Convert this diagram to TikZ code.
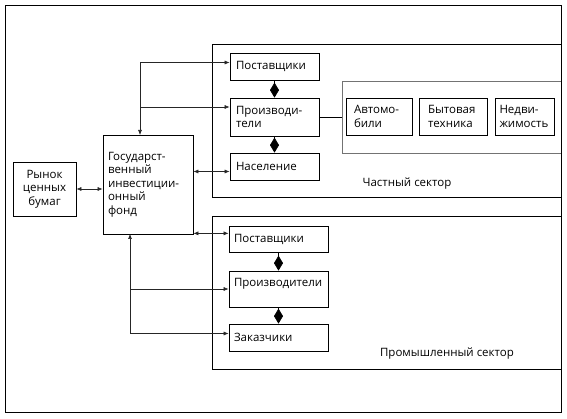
\documentclass[tikz,border=0pt]{standalone}
\usepackage{fontspec}
\setmainfont{Open Sans}
\usepackage{tikz}
\usetikzlibrary{arrows.meta}

\tikzset{
  box/.style={draw, line width=0.7pt, inner xsep=6pt, inner ysep=2pt, align=left,
    font=\fontsize{11.5}{13.5}\selectfont},
  arr/.style={-{Latex[length=5pt,width=4pt]}, line width=0.6pt, draw=black!85},
  dbl/.style={{Latex[length=5pt,width=4pt]}-{Latex[length=5pt,width=4pt]}, line width=0.6pt, draw=black!85},
  dmd/.style={-{Diamond[length=15pt,width=9pt]}, line width=0.6pt},
  lbl/.style={font=\fontsize{11.5}{13.5}\selectfont}
}

\begin{document}
\begin{tikzpicture}[x=1pt, y=-1pt]
    \useasboundingbox (0,0) rectangle (567,419);
    % Outer frame
    \draw[line width=0.8pt] (5,5) rectangle (561,412);
    % Private sector
    \draw[line width=0.7pt] (212,44) rectangle (561,197);
    \node[lbl] (plabel) at (407,184) {Частный сектор};
    % Industrial sector
    \draw[line width=0.7pt] (212,216) rectangle (561,369);
    \node[lbl] (ilabel) at (447,354) {Промышленный сектор};
    % Products frame
    \coordinate (prodframe) at (342,117);
    \draw[line width=0.7pt, black!55] (561,81) -- (342,81) -- (342,153) -- (561,153);

    % Market and fund
    \node[box, align=center, text width=57pt, inner xsep=3pt, minimum height=54pt] (market) at (44.5,189) {Рынок\\ценных\\бумаг};
    \node[box, text width=80pt, inner xsep=5pt, minimum height=99pt] (fund) at (148,184.5) {Государст-\\венный\\инвестиции-\\онный\\фонд};

    % Private sector boxes
    \node[box, text width=77pt, minimum height=27pt] (psup) at (274.5,66.5) {Поставщики};
    \node[box, text width=77pt, minimum height=38pt] (pprod) at (274.5,117) {Производи-\\тели};
    \node[box, text width=77pt, minimum height=27pt] (pop) at (274.5,166.5) {Население};
    \node[box, text width=50pt, inner xsep=3pt, minimum width=66pt, minimum height=37pt] (auto) at (379,116.5) {Автомо-\\били};
    \node[box, text width=50pt, inner xsep=3pt, minimum width=68pt, minimum height=37pt] (home) at (453,116.5) {Бытовая\\техника};
    \node[box, text width=50pt, inner xsep=3pt, minimum width=59pt, minimum height=37pt] (real) at (524.5,116.5) {Недви-\\жимость};

    % Industrial sector boxes
    \node[box, text width=89pt, inner xsep=5pt, minimum height=26pt] (isup) at (278.5,239) {Поставщики};
    \node[box, text width=89pt, inner xsep=5pt, minimum height=36pt] (iprod) at (278.5,289) {Производители\\\mbox{}};
    \node[box, text width=89pt, inner xsep=5pt, minimum height=27pt] (icust) at (278.5,337.5) {Заказчики};

    % Arrow ends
    \coordinate (fundtop) at (140,135);
    \coordinate (fundbot) at (130,234);
    \coordinate (psupin) at ([yshift=4pt]psup.west);
    \coordinate (pprodin) at ([yshift=10pt]pprod.west);
    \coordinate (popin) at ([yshift=-5pt]pop.west);
    \coordinate (icustin) at ([yshift=4pt]icust.west);
    \coordinate (fundse) at ([yshift=1pt]fund.south east);

    % Diamonds
    \draw[dmd] (psup.south) -- (pprod.north);
    \draw[dmd] (pprod.south) -- (pop.north);
    \draw[dmd] (isup.south) -- (iprod.north);
    \draw[dmd] (iprod.south) -- (icust.north);

    % Links
    \draw[line width=0.7pt] (pprod.east) -- (pprod.east -| prodframe);
    \draw[dbl] (market.east) -- (market.east -| fund.west);
    \draw[dbl] (popin -| fund.east) -- (popin);
    \draw[dbl] (fundse) -- (fundse -| isup.west);
    \draw[arr] (fundtop |- psupin) -- (psupin);
    \draw[arr] (fundtop |- psupin) -- (fundtop);
    \draw[arr] (fundtop |- pprodin) -- (pprodin);
    \draw[arr] (fundbot |- icustin) -- (fundbot);
    \draw[arr] (fundbot |- iprod.west) -- (iprod.west);
    \draw[arr] (fundbot |- icustin) -- (icustin);
\end{tikzpicture}
\end{document}
